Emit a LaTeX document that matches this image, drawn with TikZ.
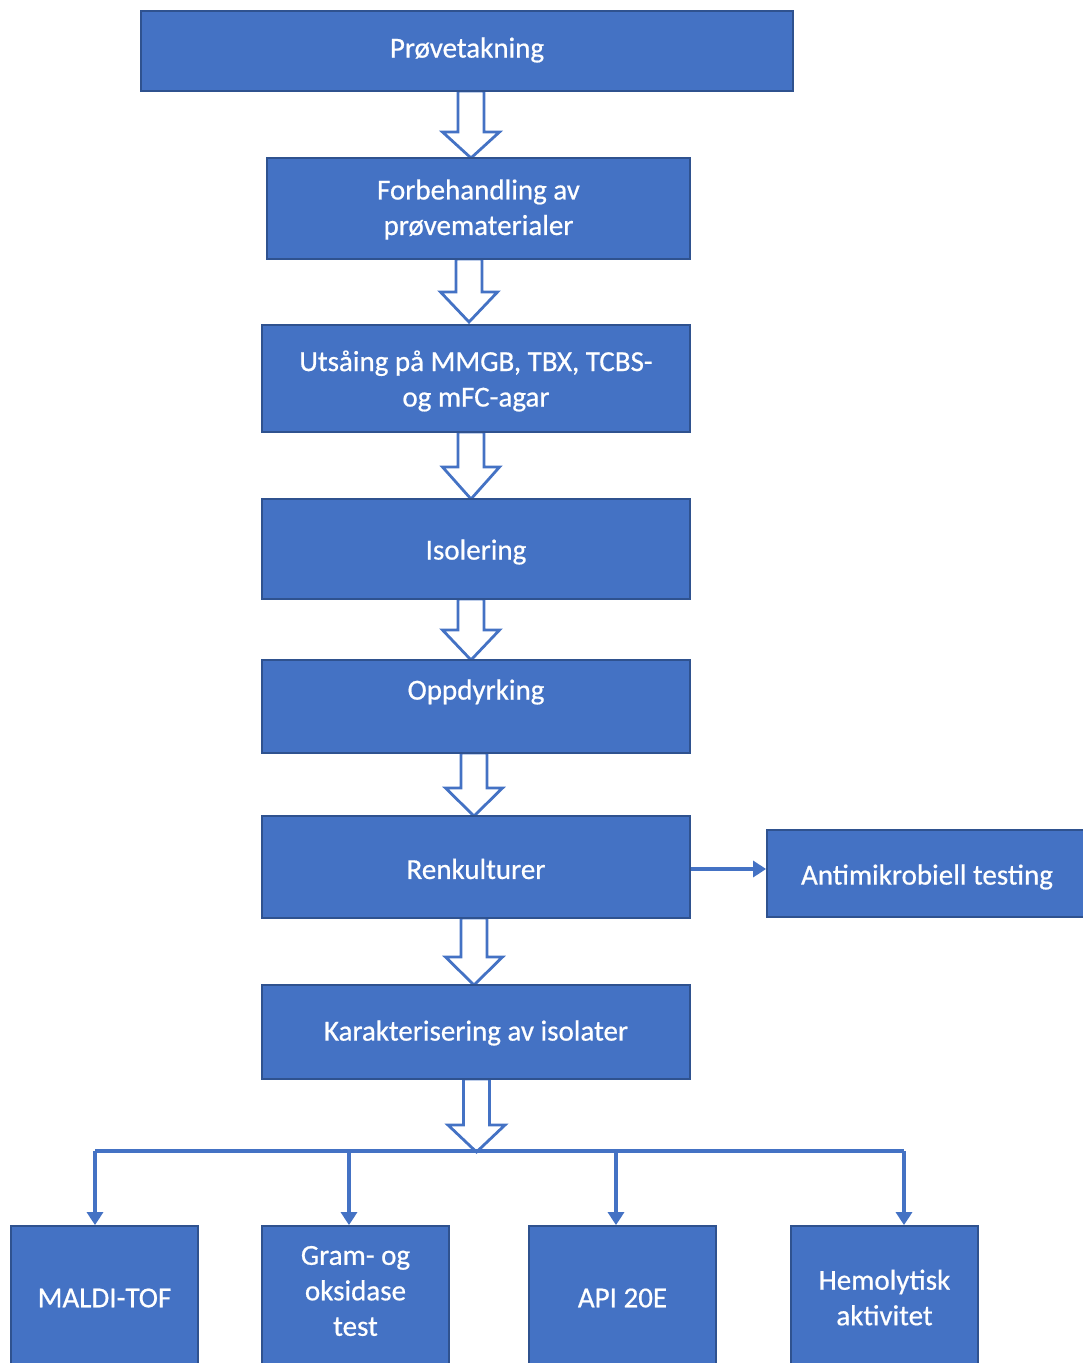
\documentclass[tikz,border=0pt]{standalone}
\usepackage{fontspec}
\setmainfont{Carlito}
\newfontfamily\boxfont{Carlito}[FakeBold=0.6]
\usetikzlibrary{arrows.meta}
\definecolor{boxfill}{HTML}{4472C4}
\definecolor{boxline}{HTML}{2F528F}
\tikzset{
  box/.style={draw=boxline, line width=1.8pt, fill=boxfill, inner sep=0pt},
  txt/.style={text=white, font=\boxfont\fontsize{29}{35.5}\selectfont, align=center, inner sep=0pt},
  barr/.style={draw=boxfill, line width=2.8pt, fill=white, line join=miter},
  conn/.style={draw=boxfill, line width=3.2pt, -{Triangle[width=16pt,length=13pt]}},
  connline/.style={draw=boxfill, line width=3.2pt},
}
\newcommand{\blockarr}[4]{%
  \draw[barr] (#1-13,#2) -- (#1-13,#3) -- (#1-28.5,#3) -- (#1,#4) -- (#1+28.5,#3) -- (#1+13,#3) -- (#1+13,#2) -- cycle;}
\begin{document}
\begin{tikzpicture}[x=1pt,y=-1pt]
\useasboundingbox (0,0) rectangle (1083,1363);
% block arrows (drawn first, boxes on top)
\blockarr{471}{91}{132}{158}
\blockarr{469}{259}{292}{322}
\blockarr{471}{432}{467}{499}
\blockarr{471}{599}{630}{660}
\blockarr{474}{753}{788}{816}
\blockarr{474}{918}{957}{985}
\blockarr{476.5}{1079}{1125}{1152}
% boxes
\node[box, minimum width=652, minimum height=80] (b1) at (467,51) {};
\node[txt] at (467,50) {Prøvetakning};
\node[box, minimum width=423, minimum height=101] (b2) at (478.5,208.5) {};
\node[txt] at (478.5,209.5) {Forbehandling av\\prøvematerialer};
\node[box, minimum width=428, minimum height=107] (b3) at (476,378.5) {};
\node[txt] at (476,381) {Utsåing på MMGB, TBX, TCBS-\\og mFC-agar};
\node[box, minimum width=428, minimum height=100] (b4) at (476,549) {};
\node[txt] at (476,552) {Isolering};
\node[box, minimum width=428, minimum height=93] (b5) at (476,706.5) {};
\node[txt] at (476,692) {Oppdyrking};
\node[box, minimum width=428, minimum height=102] (b6) at (476,867) {};
\node[txt] at (476,869) {Renkulturer};
\node[box, minimum width=330, minimum height=87] (b7) at (932,873.5) {};
\node[txt] at (927,877) {Antimikrobiell testing};
\node[box, minimum width=428, minimum height=94] (b8) at (476,1032) {};
\node[txt] at (476,1033) {Karakterisering av isolater};
% bottom boxes
\node[box, minimum width=187, minimum height=150] (m1) at (104.5,1301) {};
\node[txt] at (104.5,1298) {MALDI-TOF};
\node[box, minimum width=187, minimum height=150] (m2) at (355.5,1301) {};
\node[txt] at (355.5,1291) {Gram- og\\oksidase\\test};
\node[box, minimum width=187, minimum height=150] (m3) at (622.5,1301) {};
\node[txt] at (622.5,1298) {API 20E};
\node[box, minimum width=187, minimum height=150] (m4) at (884.5,1301) {};
\node[txt] at (884.5,1297.5) {Hemolytisk\\aktivitet};
% connectors
\draw[conn] (b6.east |- 0,869) -- (b7.west |- 0,869);
\coordinate (c1) at (95,1151);
\coordinate (c2) at (349,1151);
\coordinate (c3) at (616,1151);
\coordinate (c4) at (904,1151);
\draw[connline] (c1) -- (c4);
\draw[conn] (c1) -- (c1 |- m1.north);
\draw[conn] (c2) -- (c2 |- m2.north);
\draw[conn] (c3) -- (c3 |- m3.north);
\draw[conn] (c4) -- (c4 |- m4.north);
\end{tikzpicture}
\end{document}
